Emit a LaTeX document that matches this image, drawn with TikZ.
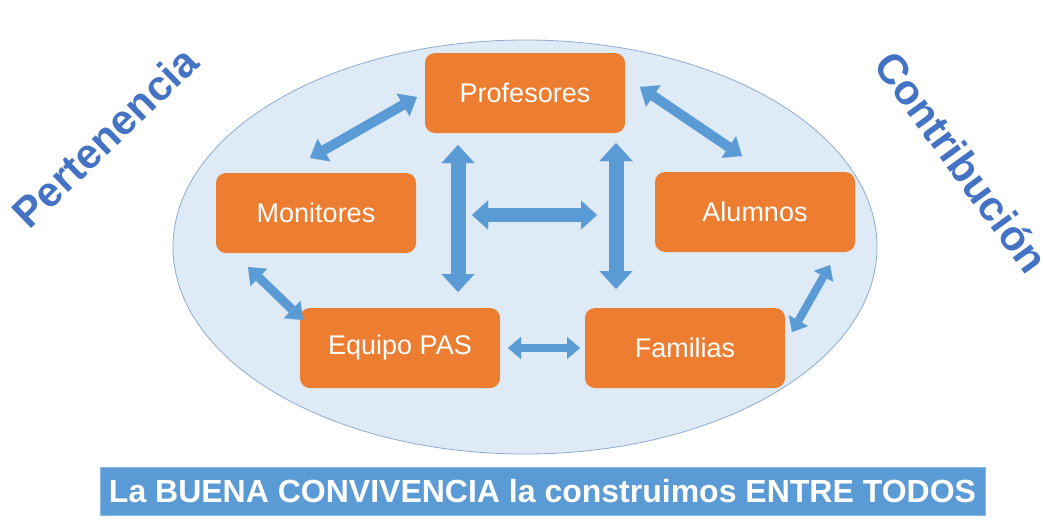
\documentclass[tikz,border=0pt]{standalone}
\usepackage{fontspec}
\setmainfont{Liberation Sans}
\usetikzlibrary{arrows.meta}
\definecolor{orng}{HTML}{ED7D31}
\definecolor{ablue}{HTML}{5B9BD5}
\definecolor{ellfill}{HTML}{DEEBF7}
\definecolor{ellline}{HTML}{8FAACC}
\definecolor{wblue}{HTML}{4472C4}
\begin{document}
\begin{tikzpicture}[x=1pt,y=-1pt,
 box/.style={draw=none, fill=orng, rounded corners=10pt, minimum width=200pt, minimum height=80pt, text=white, font=\fontsize{27}{30}\selectfont},
 dbl/.style n args={3}{draw=ablue, line width=#1, {Triangle[width=#2,length=#3,line width=0.01pt]}-{Triangle[width=#2,length=#3,line width=0.01pt]}},
 side/.style={text=wblue, font=\bfseries\fontsize{42}{46}\selectfont}
]
\useasboundingbox (0,0) rectangle (1043,523);
\fill[white] (0,0) rectangle (1043,523);
\draw[fill=ellfill, draw=ellline, line width=0.8pt] (525,247) ellipse [x radius=352, y radius=207];

\node[box] (prof) at (525,93) {Profesores};
\node[box] (mon) at (316,213) {Monitores};
\node[box] (alu) at (755,212) {Alumnos};
\node[box] (equ) at (400,348) {Equipo PAS};
\node[box] (fam) at (685,348) {Familias};

\coordinate (pm1) at (417,97);  \coordinate (pm2) at (310,158);
\coordinate (pa1) at (640,87);  \coordinate (pa2) at (742,156);
\coordinate (me1) at (248,267); \coordinate (me2) at (303,320);
\coordinate (af1) at (830,265); \coordinate (af2) at (792,332);
\coordinate (ef1) at (508,348); \coordinate (ef2) at (580,348);
\coordinate (vl1) at (458,145); \coordinate (vl2) at (458,292);
\coordinate (vr1) at (616,143); \coordinate (vr2) at (616,289);
\coordinate (hc1) at (472,215); \coordinate (hc2) at (597,215);

\draw[dbl={10pt}{26pt}{16pt}] (pm1) -- (pm2);
\draw[dbl={10pt}{26pt}{16pt}] (pa1) -- (pa2);
\draw[dbl={9pt}{24pt}{15pt}] (me1) -- (me2);
\draw[dbl={8pt}{22pt}{13pt}] (af1) -- (af2);
\draw[dbl={8pt}{22pt}{13pt}] (ef1) -- (ef2);
\draw[dbl={15pt}{33pt}{18pt}] (vl1) -- (vl2);
\draw[dbl={15pt}{33pt}{18pt}] (vr1) -- (vr2);
\draw[dbl={14pt}{29pt}{16pt}] (hc1) -- (hc2);

\node[fill=ablue, draw=ablue!70!white, line width=0.8pt, minimum width=885pt, minimum height=48pt, inner sep=0pt, text=white, font=\bfseries\fontsize{32}{36}\selectfont] (banner) at (542.5,491) {La BUENA CONVIVENCIA la construimos ENTRE TODOS};

\node[side, rotate=44] (pert) at (105,137) {Pertenencia};
\node[side, rotate=-54] (contr) at (962,162) {Contribución};
\end{tikzpicture}
\end{document}
